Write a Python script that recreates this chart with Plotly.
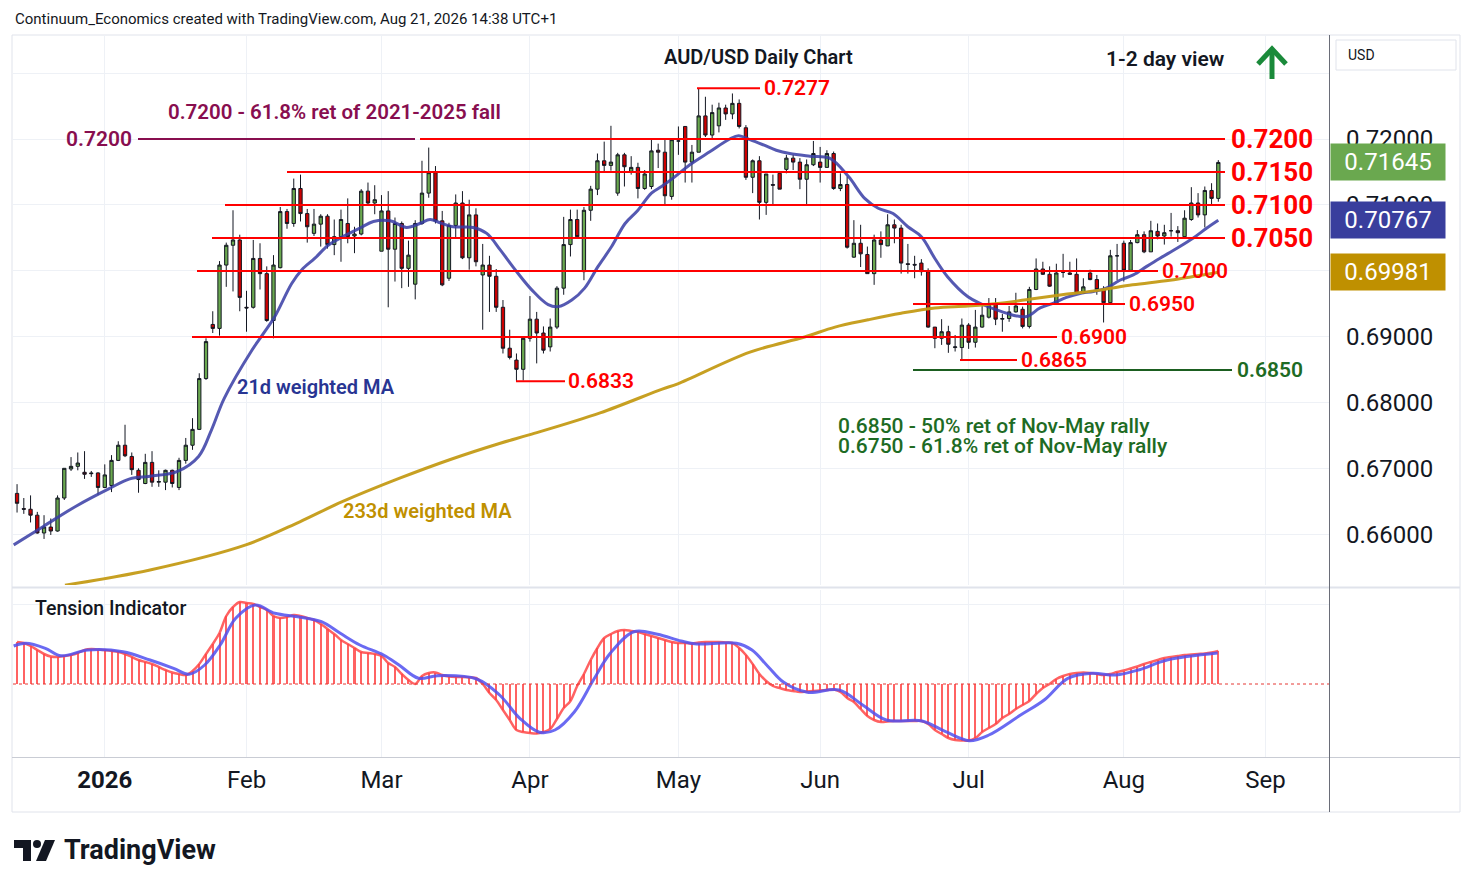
import plotly.graph_objects as go
import pandas as pd

# ---------------- data ----------------
holidays = ["2025-12-25", "2026-01-01"]
calendar = pd.bdate_range("2025-12-12", "2026-09-30")
calendar = calendar[~calendar.isin(pd.to_datetime(holidays))]

opens = [0.6663,0.6640,0.6639,0.6630,0.6603,0.6612,0.6606,0.6656,0.6700,0.6704,
         0.6695,0.6694,0.6694,0.6672,0.6675,0.6713,0.6736,0.6719,0.6698,0.6678,
         0.6710,0.6680,0.6680,0.6698,0.6672,0.6713,0.6736,0.6760,0.6837,0.6919,
         0.6913,0.7009,0.7039,0.7047,0.6945,0.6945,0.7019,0.6996,0.6925,0.7005,
         0.7090,0.7072,0.7125,0.7087,0.7057,0.7071,0.7083,0.7040,0.7052,0.7072,
         0.7053,0.7056,0.7121,0.7103,0.7030,0.7091,0.7033,0.7072,0.7004,0.6980,
         0.7072,0.7118,0.7149,0.7076,0.6989,0.7069,0.7103,0.7020,0.7085,0.6994,
         0.7009,0.6992,0.6945,0.6883,0.6865,0.6851,0.6898,0.6927,0.6906,0.6885,
         0.6915,0.6974,0.7040,0.7078,0.6999,0.7092,0.7124,0.7167,0.7160,0.7118,
         0.7176,0.7151,0.7157,0.7125,0.7128,0.7183,0.7180,0.7113,0.7197,0.7219,
         0.7165,0.7180,0.7235,0.7206,0.7220,0.7247,0.7238,0.7254,0.7217,0.7142,
         0.7167,0.7104,0.7131,0.7148,0.7154,0.7171,0.7165,0.7139,0.7161,0.7165,
         0.7157,0.7178,0.7125,0.7131,0.7021,0.7042,0.7025,0.6996,0.7047,0.7038,
         0.7070,0.7065,0.7011,0.7010,0.7012,0.6999,0.6915,0.6898,0.6908,0.6884,
         0.6884,0.6918,0.6892,0.6915,0.6930,0.6949,0.6927,0.6928,0.6938,0.6942,
         0.6916,0.6972,0.7003,0.6995,0.6951,0.6998,0.6997,0.6995,0.6966,0.6997,
         0.6987,0.6972,0.6952,0.7023,0.7042,0.7001,0.7043,0.7055,0.7029,0.7060,
         0.7053,0.7061,0.7061,0.7052,0.7078,0.7103,0.7085,0.7122,0.7110]
highs = [0.6677,0.6656,0.6660,0.6635,0.6630,0.6625,0.6660,0.6701,0.6718,0.6725,
         0.6727,0.6697,0.6695,0.6707,0.6721,0.6742,0.6767,0.6725,0.6701,0.6723,
         0.6727,0.6698,0.6699,0.6699,0.6717,0.6747,0.6777,0.6845,0.6898,0.6939,
         0.7015,0.7043,0.7092,0.7055,0.6970,0.7047,0.7042,0.7007,0.7024,0.7097,
         0.7094,0.7140,0.7146,0.7094,0.7094,0.7086,0.7086,0.7078,0.7093,0.7110,
         0.7067,0.7124,0.7134,0.7130,0.7115,0.7121,0.7081,0.7075,0.7046,0.7077,
         0.7167,0.7187,0.7159,0.7091,0.7073,0.7116,0.7121,0.7108,0.7095,0.7041,
         0.7023,0.7003,0.6956,0.6911,0.6875,0.6900,0.6962,0.6938,0.6916,0.6928,
         0.6977,0.7082,0.7093,0.7093,0.7097,0.7129,0.7178,0.7196,0.7220,0.7179,
         0.7179,0.7174,0.7164,0.7153,0.7199,0.7193,0.7199,0.7201,0.7219,0.7219,
         0.7191,0.7277,0.7264,0.7252,0.7255,0.7252,0.7269,0.7260,0.7221,0.7169,
         0.7174,0.7147,0.7146,0.7148,0.7176,0.7176,0.7171,0.7169,0.7197,0.7188,
         0.7183,0.7181,0.7148,0.7143,0.7077,0.7070,0.7037,0.7055,0.7060,0.7086,
         0.7078,0.7070,0.7041,0.7023,0.7018,0.7004,0.6915,0.6927,0.6917,0.6903,
         0.6928,0.6921,0.6941,0.6949,0.6959,0.6959,0.6935,0.6947,0.6967,0.6946,
         0.6976,0.7019,0.7014,0.7007,0.7011,0.7026,0.7014,0.7019,0.6989,0.7002,
         0.6994,0.6977,0.7032,0.7041,0.7046,0.7047,0.7062,0.7060,0.7076,0.7072,
         0.7070,0.7088,0.7068,0.7092,0.7127,0.7118,0.7128,0.7133,0.7168]
lows = [0.6634,0.6632,0.6619,0.6602,0.6594,0.6600,0.6605,0.6653,0.6697,0.6698,
        0.6685,0.6688,0.6661,0.6671,0.6665,0.6712,0.6718,0.6691,0.6664,0.6677,
        0.6673,0.6673,0.6668,0.6672,0.6668,0.6708,0.6729,0.6759,0.6835,0.6906,
        0.6902,0.6976,0.6969,0.6939,0.6908,0.6943,0.6972,0.6923,0.6898,0.7004,
        0.7064,0.7067,0.7075,0.7043,0.7053,0.7037,0.7034,0.7024,0.7014,0.7042,
        0.7027,0.7054,0.7100,0.7086,0.7030,0.6945,0.6984,0.6974,0.6976,0.6957,
        0.7070,0.7111,0.7072,0.6977,0.6985,0.7050,0.7018,0.7002,0.7007,0.6911,
        0.6938,0.6938,0.6875,0.6866,0.6833,0.6834,0.6893,0.6860,0.6875,0.6878,
        0.6912,0.6964,0.7022,0.7052,0.6986,0.7076,0.7115,0.7151,0.7152,0.7114,
        0.7128,0.7146,0.7110,0.7123,0.7124,0.7156,0.7100,0.7108,0.7176,0.7134,
        0.7134,0.7180,0.7203,0.7201,0.7210,0.7229,0.7230,0.7216,0.7138,0.7118,
        0.7078,0.7085,0.7100,0.7124,0.7148,0.7153,0.7124,0.7100,0.7159,0.7134,
        0.7157,0.7123,0.7121,0.7034,0.7020,0.7006,0.6996,0.6979,0.7020,0.7038,
        0.7042,0.6996,0.6996,0.6989,0.6993,0.6914,0.6883,0.6888,0.6876,0.6878,
        0.6865,0.6882,0.6884,0.6914,0.6928,0.6918,0.6908,0.6923,0.6937,0.6913,
        0.6913,0.6971,0.6994,0.6976,0.6950,0.6990,0.6994,0.6966,0.6965,0.6986,
        0.6964,0.6922,0.6949,0.6986,0.6984,0.7000,0.7042,0.7027,0.7029,0.7048,
        0.7040,0.7052,0.7044,0.7052,0.7076,0.7081,0.7066,0.7099,0.7105]
closes = [0.6648,0.6639,0.6630,0.6603,0.6612,0.6606,0.6656,0.6701,0.6704,0.6709,
          0.6692,0.6693,0.6672,0.6691,0.6713,0.6736,0.6720,0.6699,0.6684,0.6710,
          0.6680,0.6681,0.6698,0.6678,0.6713,0.6736,0.6760,0.6837,0.6893,0.6913,
          0.7009,0.7039,0.7047,0.6960,0.6944,0.7019,0.6996,0.6925,0.7009,0.7090,
          0.7072,0.7125,0.7087,0.7067,0.7071,0.7083,0.7040,0.7052,0.7078,0.7052,
          0.7056,0.7121,0.7103,0.7108,0.7091,0.7033,0.7072,0.7004,0.7024,0.7072,
          0.7118,0.7149,0.7076,0.6979,0.7069,0.7103,0.7020,0.7085,0.7014,0.7009,
          0.6992,0.6945,0.6883,0.6869,0.6851,0.6898,0.6927,0.6906,0.6880,0.6915,
          0.6974,0.7040,0.7078,0.7052,0.7092,0.7124,0.7167,0.7160,0.7165,0.7176,
          0.7158,0.7157,0.7125,0.7147,0.7182,0.7180,0.7114,0.7199,0.7197,0.7165,
          0.7180,0.7235,0.7206,0.7240,0.7247,0.7238,0.7254,0.7219,0.7142,0.7167,
          0.7104,0.7147,0.7130,0.7124,0.7171,0.7165,0.7139,0.7161,0.7178,0.7157,
          0.7178,0.7125,0.7131,0.7036,0.7042,0.7026,0.6996,0.7047,0.7040,0.7070,
          0.7065,0.7012,0.7010,0.7009,0.6999,0.6915,0.6898,0.6908,0.6889,0.6885,
          0.6918,0.6892,0.6915,0.6933,0.6949,0.6927,0.6928,0.6938,0.6947,0.6916,
          0.6972,0.7003,0.6995,0.6977,0.6997,0.6998,0.6995,0.6966,0.6976,0.6987,
          0.6972,0.6952,0.7023,0.7023,0.7001,0.7043,0.7055,0.7029,0.7061,0.7053,
          0.7058,0.7061,0.7058,0.7080,0.7103,0.7085,0.7122,0.7110,0.71645]

# 21d weighted MA (bar position, value)
ma21_pos = [-0.5,3.9,8.8,13.8,16.7,19.7,23.7,26.9,28.8,30.7,34.8,36.7,38.2,40.7,42.2,44.1,
            46.1,48.1,50.8,52.8,55.3,57.7,59.7,61.2,62.7,64.6,67.6,69.6,71.6,73.8,76.3,
            78.7,80.2,82.2,84.1,86.1,88.1,90.1,92.0,94.0,95.5,97.5,99.7,102.7,105.6,106.9,
            108.6,110.6,112.5,114.5,117.5,120.4,123.2,125.6,127.6,129.8,132.0,134.0,136.0,
            137.9,140.9,142.9,144.9,147.6,149.6,151.6,153.5,155.5,157.5,159.5,161.4,163.4,
            165.4,167.4,169.3,171.8,174.3,176.3,178.0]
ma21_val = [0.6585,0.6613,0.6644,0.6671,0.6685,0.6689,0.6696,0.6719,0.6759,0.6807,0.6880,
            0.6908,0.6931,0.6981,0.7002,0.7019,0.7039,0.7051,0.7065,0.7075,0.7076,0.7066,
            0.7072,0.7078,0.7073,0.7067,0.7066,0.7057,0.7032,0.7002,0.6971,0.6949,0.6946,
            0.6956,0.6974,0.7007,0.7037,0.7072,0.7092,0.7118,0.7128,0.7143,0.7161,0.7181,
            0.7200,0.7205,0.7199,0.7191,0.7183,0.7178,0.7174,0.7171,0.7143,0.7110,0.7095,
            0.7087,0.7067,0.7052,0.7019,0.6991,0.6961,0.6950,0.6942,0.6933,0.6931,0.6944,
            0.6951,0.6960,0.6966,0.6969,0.6974,0.6986,0.6994,0.7007,0.7019,0.7034,0.7050,
            0.7065,0.70767]

# 233d weighted MA (bar position, value)
ma233_pos = [7.1,19.7,33.9,41.9,48.1,56.7,64.1,71.6,76.0,86.4,95.6,97.9,108.6,116.7,121.2,
             126.1,131.0,136.0,140.9,146.4,150.5,155.6,160.4,165.3,170.8,178.0]
ma233_val = [0.6524,0.6547,0.6585,0.6620,0.6650,0.6686,0.6714,0.6739,0.6752,0.6785,0.6821,
             0.6829,0.6877,0.6900,0.6915,0.6926,0.6936,0.6944,0.6947,0.6952,0.6958,0.6965,
             0.6971,0.6979,0.6986,0.69981]

# Tension indicator, one value per bar
tension = [42,41,38,34,30,27.5,27,28,29,31,34,35,34.5,34,33,32,30,27,24,22,20,17,14,11.5,
           10,9,13,20,30,40,51,68,77,82,81,80,77,74,68,66,67,69,68,66,64,60,55,50,44,40,36,
           32,31,30,28,21,17,10,4,0,8,11,11.5,9,7.5,7,7,6.5,6,0,-9,-16,-26,-36,-46,-48,-49,
           -49.5,-48,-45,-35,-24,-17,-2,10,24,36,46,50,53,54,53,52,50,48,46,44,42,41,41,40.5,
           41.5,42,42,42,41.5,41,36,29,20,10,3,-2,-4,-6,-7,-8,-7.5,-7,-6.5,-6,-5.5,-8,-14,
           -18,-25,-32,-36,-38,-37.5,-37,-37,-37,-37,-37,-40,-46,-50,-54,-56,-56.5,-56.5,-54,
           -48,-44,-40,-34,-30,-25,-21,-17,-10,-4,0,5,8,10,11,11.5,11,10,9,10,12,13.5,15.5,
           17.5,20,22,24,26,27,28,29,29.5,30,30.5,31.5,33]
# Tension signal line (bar position, value)
signal_pos = [-0.5,1.3,4.2,6.5,10.5,15.7,19.7,23.2,25.5,27.8,30.1,32.4,35.3,38.2,41.6,45.1,
              47.9,50.8,54.3,56.6,59.5,62.3,68.1,71.5,74.5,77.4,79.7,82.6,85.4,87.9,91.4,
              94.9,98.4,100.7,106.6,108.9,111.3,113.6,117.1,121.8,125.3,128.8,134.1,137.6,
              141.1,144.0,148.7,152.2,155.7,159.3,162.8,166.3,170.4,177.9]
signal_val = [38,40.7,35.7,28.3,34,32.3,24,15.7,9.7,19,39,65.7,79,70.7,67.3,62.3,50.7,39,29,
              19,5.7,8.3,5,-11,-34.3,-48.3,-46,-27.7,4,30.7,52.3,49.7,43,40,40.7,34,17.3,1.7,
              -8.3,-6,-21,-36,-37,-47.7,-56.7,-51,-31,-16,5.7,10.7,9,14.3,24,31]

tick_months = ["2026-01","2026-02","2026-03","2026-04","2026-05","2026-06","2026-07","2026-08","2026-09"]
tick_labels = ["2026","Feb","Mar","Apr","May","Jun","Jul","Aug","Sep"]

price_ticks = [0.66,0.67,0.68,0.69,0.70,0.71,0.72,0.73]

levels_big = [0.7200, 0.7150, 0.7100, 0.7050]
levels_small = [0.7277, 0.7000, 0.6950, 0.6900, 0.6865, 0.6833]
level_050 = 0.6850
level_618 = 0.7200
last_price, last_ma21, last_ma233 = 0.71645, 0.70767, 0.69981

# ---------------- layout helpers ----------------
W, H = 1474, 887
L, R, T, B = 13, 1329, 35, 757
def px(x): return (x - L) / (R - L)
def py(y): return (B - y) / (B - T)

n = len(closes)
dates = calendar[:n]
xs = list(range(n))
cal_months = list(calendar.strftime("%Y-%m"))
tickvals = [cal_months.index(m) for m in tick_months]
ticktext = ["<b>" + t + "</b>" if t == "2026" else t for t in tick_labels]

FONT = "Roboto"
INK = "#131722"
RED = "#ff0000"
GRID = "#eef1f6"

fig = go.Figure()
fig.add_trace(go.Candlestick(
    x=xs, open=opens, high=highs, low=lows, close=closes,
    text=[d.strftime("%Y-%m-%d") for d in dates],
    increasing=dict(line=dict(color=INK, width=1), fillcolor="#6aa84f"),
    decreasing=dict(line=dict(color=INK, width=1), fillcolor="#cc0000"),
    xaxis="x", yaxis="y"))
fig.add_trace(go.Scatter(x=ma21_pos, y=ma21_val, mode="lines",
    line=dict(color="rgba(55,60,165,0.85)", width=3, shape="spline"), xaxis="x", yaxis="y"))
fig.add_trace(go.Scatter(x=ma233_pos, y=ma233_val, mode="lines",
    line=dict(color="rgba(196,155,22,0.95)", width=3, shape="spline"), xaxis="x", yaxis="y"))

fig.add_trace(go.Bar(x=xs, y=tension, width=0.3, marker=dict(color="rgba(255,70,70,0.85)", line=dict(width=0)),
    xaxis="x2", yaxis="y2"))
fig.add_trace(go.Scatter(x=xs, y=tension, mode="lines",
    line=dict(color="rgba(255,70,70,0.85)", width=2.5, shape="spline"), xaxis="x2", yaxis="y2"))
fig.add_trace(go.Scatter(x=signal_pos, y=signal_val, mode="lines",
    line=dict(color="rgba(80,80,240,0.85)", width=3, shape="spline"), xaxis="x2", yaxis="y2"))

xr = [-0.6, 194.4]
yr = [0.65242, 0.735758]
yr2 = [-73, 94]

shapes = []
anns = []

def hline(p, x0, x1, color, width=2, yref="y"):
    shapes.append(dict(type="line", xref="paper", yref=yref, x0=px(x0), x1=px(x1), y0=p, y1=p,
                       line=dict(color=color, width=width)))

def label(x, y, s, size, color=INK, weight=400, xanchor="center", yref="paper"):
    anns.append(dict(x=px(x), y=(py(y) if yref == "paper" else y), xref="paper", yref=yref,
                     text=s, showarrow=False, xanchor=xanchor, yanchor="middle",
                     font=dict(family=FONT, size=size, color=color, weight=weight)))

big_starts = [420, 287, 225, 212]
for p, x0 in zip(levels_big, big_starts):
    hline(p, x0, 1225, RED)
    label(1229, p, f"{p:.4f}", 26, RED, 700, "left", "y")
small_spans = [(697, 760, 762), (197, 1158, 1160), (913, 1125, 1127), (192, 1057, 1059),
               (960, 1017, 1019), (516, 565, 566)]
for p, (x0, x1, lx) in zip(levels_small, small_spans):
    hline(p, x0, x1, RED)
    label(lx, p, f"{p:.4f}", 21, RED, 600, "left", "y")
GREEN_T = "#1e6b24"
hline(level_050, 913, 1232, "#1b5e20")
label(1235, level_050, f"{level_050:.4f}", 21, GREEN_T, 600, "left", "y")
PURPLE = "#880e4f"
hline(level_618, 138, 415, PURPLE)
label(134, level_618, f"{level_618:.4f}", 21, PURPLE, 600, "right", "y")

label(13, 19, "Continuum_Economics created with TradingView.com, Aug 21, 2026 14:38 UTC+1", 15, INK, 400, "left")
label(759, 57, "AUD/USD Daily Chart", 20, INK, 600)
label(1165, 59, "1-2 day view", 21, INK, 600)
label(334, 112, "0.7200 - 61.8% ret of 2021-2025 fall", 20.5, PURPLE, 600)
label(316, 387, "21d weighted MA", 20, "#283593", 600)
label(427, 511, "233d weighted MA", 20, "#bf9000", 600)
label(836, 426, "0.6850 - 50% ret of Nov-May rally", 21, GREEN_T, 500, "left")
label(836, 446, "0.6750 - 61.8% ret of Nov-May rally", 21, GREEN_T, 500, "left")
label(33, 608, "Tension Indicator", 19.5, INK, 500, "left")
label(62, 850, "TradingView", 27, INK, 700, "left")
label(1346, 55, "USD", 14, INK, 400, "left")

for p, c in [(last_price, "#6aa84f"), (last_ma21, "#393e9d"), (last_ma233, "#bf9000")]:
    anns.append(dict(x=1, y=p, xref="paper", yref="y", xanchor="left", yanchor="middle", xshift=1,
                     text=f"{p:.5f}", showarrow=False, bgcolor=c, width=112, height=34, borderpad=1,
                     font=dict(family=FONT, size=24, color="white")))

shapes.append(dict(type="line", xref="paper", yref="y2", x0=0, x1=1, y0=0, y1=0,
                   line=dict(color="#e53935", width=1, dash="dot")))
shapes.append(dict(type="rect", xref="paper", yref="paper", x0=px(12), x1=px(1460), y0=py(812), y1=py(35),
                   line=dict(color="#e0e3eb", width=1), layer="below"))
shapes.append(dict(type="line", xref="paper", yref="paper", x0=px(12), x1=px(1460), y0=py(587.5), y1=py(587.5),
                   line=dict(color="#e0e3eb", width=2)))
shapes.append(dict(type="line", xref="paper", yref="paper", x0=px(12), x1=px(1460), y0=py(757.5), y1=py(757.5),
                   line=dict(color="#c9ccd4", width=1)))
shapes.append(dict(type="line", xref="paper", yref="paper", x0=px(1329.5), x1=px(1329.5), y0=py(812), y1=py(35),
                   line=dict(color="#6a6d78", width=1)))
shapes.append(dict(type="rect", xref="paper", yref="paper", x0=px(1336), x1=px(1456), y0=py(70), y1=py(40),
                   line=dict(color="#e0e3eb", width=1)))
ARROW = "#1a8a3a"
shapes.append(dict(type="line", xref="paper", yref="paper", x0=px(1272), x1=px(1272), y0=py(79), y1=py(50),
                   line=dict(color=ARROW, width=5)))
shapes.append(dict(type="path", xref="paper", yref="paper",
                   path=f"M{px(1258)},{py(64)} L{px(1272)},{py(49)} L{px(1286)},{py(64)}",
                   line=dict(color=ARROW, width=5)))
shapes.append(dict(type="path", xref="paper", yref="paper",
                   path=(f"M{px(14)},{py(840)} L{px(31)},{py(840)} L{px(31)},{py(861)} L{px(23)},{py(861)} "
                         f"L{px(23)},{py(848)} L{px(14)},{py(848)} Z"),
                   fillcolor=INK, line=dict(width=0)))
shapes.append(dict(type="circle", xref="paper", yref="paper", x0=px(33), x1=px(41), y0=py(848), y1=py(840),
                   fillcolor=INK, line=dict(width=0)))
shapes.append(dict(type="path", xref="paper", yref="paper",
                   path=(f"M{px(45)},{py(840)} L{px(55)},{py(840)} L{px(46)},{py(861)} L{px(36)},{py(861)} Z"),
                   fillcolor=INK, line=dict(width=0)))

fig.update_layout(
    width=W, height=H, margin=dict(l=L, r=W - R, t=T, b=H - B),
    paper_bgcolor="white", plot_bgcolor="white", showlegend=False,
    font=dict(family=FONT, color=INK),
    xaxis=dict(domain=[0, 1], anchor="y", range=xr, tickvals=tickvals, showticklabels=False,
               showgrid=True, gridcolor=GRID, zeroline=False, rangeslider=dict(visible=False),
               showline=False, ticks=""),
    xaxis2=dict(domain=[0, 1], anchor="y2", range=xr, tickvals=tickvals, ticktext=ticktext,
                showgrid=True, gridcolor=GRID, zeroline=False, showline=False, ticks="",
                tickfont=dict(family=FONT, size=24, color=INK), ticklabelstandoff=6),
    yaxis=dict(domain=[py(585), 1], anchor="x", range=yr, side="right", tickvals=price_ticks,
               ticktext=[("" if v > 0.725 else f"{v:.5f}") for v in price_ticks],
               showgrid=True, gridcolor=GRID, zeroline=False, ticks="",
               tickfont=dict(family=FONT, size=24, color=INK), ticklabelstandoff=16),
    yaxis2=dict(domain=[0, py(590)], anchor="x2", range=yr2, side="right", tickvals=[80],
                showticklabels=False, showgrid=True, gridcolor=GRID, zeroline=False, ticks=""),
    shapes=shapes, annotations=anns, bargap=0,
)

fig.write_html("out.html", config={"displayModeBar": False},
               post_script="document.body.style.margin='0';document.body.style.padding='0';")
